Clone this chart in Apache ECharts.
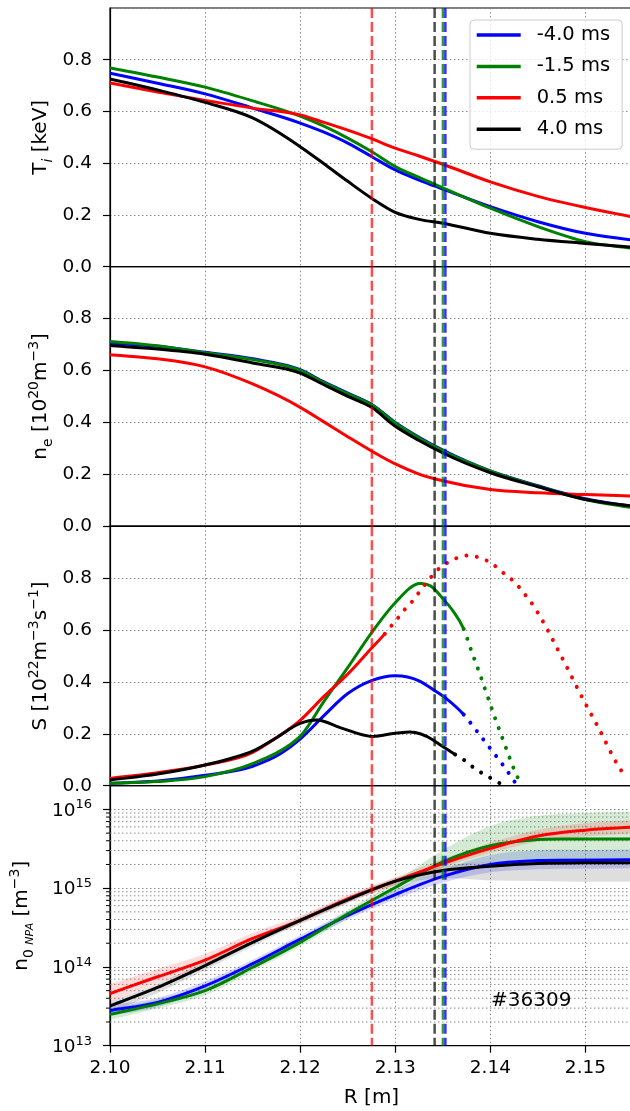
<!DOCTYPE html>
<html>
<head>
<meta charset="utf-8">
<script src="https://cdn.jsdelivr.net/npm/echarts@6/dist/echarts.min.js"></script>
<style>
  html, body { margin: 0; padding: 0; background: #ffffff; }
  #chart { width: 630px; height: 1111px; }
</style>
</head>
<body>
<div id="chart"></div>
<script>
const FONT = 'DejaVu Sans';

// Time slices relative to the event
const shots = ['-4.0 ms', '-1.5 ms', '0.5 ms', '4.0 ms'];
const shotColors = ['#0000ff', '#008000', '#ff0000', '#000000'];

// Major radius grid of the T_i and n_e profiles [m]
const rProfile = [2.100, 2.105, 2.110, 2.115, 2.120, 2.1225, 2.125, 2.1275, 2.130, 2.1325, 2.135, 2.140, 2.145, 2.150, 2.155];

// Ion temperature [keV]
const tiM40 = [0.748, 0.709, 0.668, 0.613, 0.555, 0.520, 0.478, 0.426, 0.374, 0.335, 0.300, 0.232, 0.174, 0.129, 0.103];
const tiM15 = [0.768, 0.733, 0.694, 0.641, 0.582, 0.543, 0.497, 0.445, 0.387, 0.345, 0.305, 0.226, 0.155, 0.097, 0.071];
const tiP05 = [0.710, 0.675, 0.643, 0.613, 0.587, 0.558, 0.528, 0.495, 0.458, 0.428, 0.396, 0.328, 0.272, 0.229, 0.192];
const tiP40 = [0.726, 0.683, 0.635, 0.575, 0.464, 0.398, 0.330, 0.265, 0.210, 0.183, 0.168, 0.129, 0.106, 0.090, 0.075];

// Electron density [1e20 m^-3]
const neM40 = [0.706, 0.693, 0.670, 0.645, 0.603, 0.556, 0.513, 0.470, 0.400, 0.343, 0.293, 0.213, 0.156, 0.106, 0.075];
const neM15 = [0.712, 0.695, 0.668, 0.642, 0.600, 0.553, 0.510, 0.468, 0.398, 0.340, 0.290, 0.212, 0.154, 0.103, 0.071];
const neP05 = [0.661, 0.645, 0.614, 0.548, 0.458, 0.402, 0.345, 0.290, 0.240, 0.201, 0.175, 0.141, 0.129, 0.122, 0.116];
const neP40 = [0.696, 0.683, 0.663, 0.629, 0.590, 0.545, 0.500, 0.458, 0.385, 0.330, 0.282, 0.206, 0.152, 0.103, 0.077];

// Ionisation source S [1e22 m^-3 s^-1]; solid up to sSolidEnd, dotted beyond
const sM40R = [2.100, 2.105, 2.110, 2.115, 2.118, 2.120, 2.1225, 2.125, 2.1275, 2.130, 2.1325, 2.134, 2.1355, 2.1372, 2.1380, 2.1388, 2.1396, 2.1404, 2.1412, 2.1420, 2.1428];
const sM40  = [0.009, 0.018, 0.040, 0.075, 0.125, 0.180, 0.270, 0.355, 0.405, 0.424, 0.404, 0.370, 0.332, 0.274, 0.238, 0.200, 0.162, 0.124, 0.086, 0.045, 0.002];
const sM15R = [2.100, 2.105, 2.110, 2.115, 2.119, 2.120, 2.1225, 2.125, 2.1275, 2.130, 2.1325, 2.1337, 2.1351, 2.1361, 2.1372, 2.1380, 2.1388, 2.1396, 2.1404, 2.1412, 2.1420, 2.1427, 2.1433];
const sM15  = [0.009, 0.016, 0.035, 0.085, 0.160, 0.190, 0.325, 0.455, 0.589, 0.705, 0.779, 0.770, 0.717, 0.672, 0.604, 0.520, 0.440, 0.355, 0.270, 0.190, 0.110, 0.045, 0.002];
const sP05R = [2.100, 2.105, 2.110, 2.115, 2.1175, 2.120, 2.1225, 2.125, 2.1275, 2.1289, 2.1295, 2.1302, 2.1310, 2.1318, 2.1325, 2.1332, 2.1340, 2.1347, 2.1358, 2.1368, 2.1379, 2.1391, 2.1402, 2.1410, 2.1419, 2.1428, 2.1435, 2.1442, 2.1449, 2.1473, 2.1498, 2.1515, 2.1535, 2.1542];
const sP05  = [0.028, 0.050, 0.080, 0.128, 0.185, 0.252, 0.344, 0.430, 0.530, 0.585, 0.612, 0.643, 0.679, 0.711, 0.745, 0.779, 0.814, 0.840, 0.865, 0.882, 0.887, 0.875, 0.856, 0.830, 0.805, 0.775, 0.743, 0.711, 0.672, 0.510, 0.330, 0.214, 0.073, 0.035];
const sP40R = [2.100, 2.105, 2.110, 2.1125, 2.115, 2.1175, 2.120, 2.1218, 2.1242, 2.1275, 2.130, 2.1321, 2.1333, 2.1347, 2.1363, 2.1372, 2.1383, 2.1391, 2.1402, 2.1412, 2.1416];
const sP40  = [0.022, 0.045, 0.080, 0.103, 0.133, 0.185, 0.240, 0.253, 0.224, 0.190, 0.202, 0.205, 0.190, 0.158, 0.120, 0.100, 0.068, 0.049, 0.026, 0.006, 0.001];
const sSolidEnd = [2.1372, 2.1372, 2.1289, 2.1363];

// NPA neutral density n0 [m^-3] with lower/upper uncertainty in decades
const rNpa = [2.100, 2.105, 2.110, 2.115, 2.120, 2.125, 2.130, 2.135, 2.140, 2.145, 2.150, 2.155];
const n0M40 = [2.8e13, 3.55e13, 5.75e13, 1.1e14, 2.25e14, 4.5e14, 8.3e14, 1.41e15, 2.0e15, 2.24e15, 2.27e15, 2.3e15];
const n0M15 = [2.5e13, 3.4e13, 5.0e13, 9.9e13, 2.05e14, 4.7e14, 1.02e15, 2.15e15, 3.45e15, 4.15e15, 4.2e15, 4.2e15];
const n0P05 = [4.6e13, 7.5e13, 1.22e14, 2.3e14, 3.9e14, 7.3e14, 1.23e15, 2.05e15, 3.2e15, 4.6e15, 5.45e15, 5.95e15];
const n0P40 = [3.2e13, 5.5e13, 1.04e14, 2.05e14, 3.9e14, 7.1e14, 1.23e15, 1.68e15, 1.9e15, 2.05e15, 2.1e15, 2.1e15];
const n0M40Lo = [0.07, 0.06, 0.06, 0.05, 0.05, 0.05, 0.06, 0.08, 0.10, 0.11, 0.11, 0.11];
const n0M40Hi = [0.07, 0.06, 0.06, 0.05, 0.05, 0.05, 0.06, 0.08, 0.12, 0.13, 0.13, 0.13];
const n0M15Lo = [0.07, 0.06, 0.06, 0.05, 0.05, 0.05, 0.06, 0.10, 0.20, 0.25, 0.27, 0.27];
const n0M15Hi = [0.07, 0.06, 0.06, 0.05, 0.05, 0.05, 0.08, 0.15, 0.25, 0.30, 0.33, 0.35];
const n0P05Lo = [0.10, 0.08, 0.07, 0.06, 0.05, 0.05, 0.05, 0.05, 0.06, 0.07, 0.08, 0.08];
const n0P05Hi = [0.12, 0.10, 0.08, 0.07, 0.06, 0.05, 0.05, 0.06, 0.07, 0.08, 0.09, 0.09];
const n0P40Lo = [0.08, 0.07, 0.06, 0.05, 0.04, 0.04, 0.05, 0.10, 0.18, 0.22, 0.24, 0.24];
const n0P40Hi = [0.06, 0.05, 0.05, 0.04, 0.04, 0.04, 0.04, 0.05, 0.06, 0.06, 0.06, 0.06];

// Separatrix positions of each time slice [m]
const sepR = [2.13527, 2.13501, 2.12754, 2.13414];

// Axis ranges and tick settings
const X_MIN = 2.10, X_MAX = 2.155, X_STEP = 0.01;
const LIN_MIN = 0, LIN_MAX = 1.0, LIN_STEP = 0.2;
const LOG_MIN = 1e13, LOG_MAX = 2e16;

const GRID_LINE = { color: '#8c8c8c', width: 1, type: [1.5, 2.5] };
const AXIS_LINE = { color: '#000000', width: 1.2 };
const TICK_FONT = 18.5;

const nameRich = {
  n:   { fontSize: 20, fontFamily: FONT, color: '#000', lineHeight: 28 },
  sub: { fontSize: 14, fontFamily: FONT, color: '#000', lineHeight: 14, verticalAlign: 'bottom' },
  si:  { fontSize: 14, fontFamily: FONT, color: '#000', lineHeight: 14, verticalAlign: 'bottom', fontStyle: 'italic' },
  sn:  { fontSize: 11, fontFamily: FONT, color: '#000', lineHeight: 12, verticalAlign: 'bottom', fontStyle: 'italic' },
  sup: { fontSize: 14, fontFamily: FONT, color: '#000', lineHeight: 14, verticalAlign: 'top' }
};

const yNames = [
  '{n|T}{si|i}{n| [keV]}',
  '{n|n}{sub|e}{n| [10}{sup|20}{n|m}{sup|\u22123}{n|]}',
  '{n|S [10}{sup|22}{n|m}{sup|\u22123}{n|s}{sup|\u22121}{n|]}',
  '{n|n}{sub|0 }{sn|NPA}{n| [m}{sup|\u22123}{n|]}'
];

const gridBoxes = [[8, 258.7], [266.7, 259.5], [526.2, 259.5], [785.7, 260]];
const grids = gridBoxes.map(([top, height]) => ({
  left: 110, top, width: 523, height,
  show: true, borderColor: '#000', borderWidth: 1.2, backgroundColor: 'transparent',
  containLabel: false, outerBoundsMode: 'none'
}));

const xAxes = grids.map((g, i) => ({
  type: 'value', gridIndex: i, min: X_MIN, max: X_MAX, interval: X_STEP,
  axisLine: { show: true, onZero: false, lineStyle: AXIS_LINE },
  axisTick: { show: i === 3, inside: false, length: 7, lineStyle: AXIS_LINE },
  axisLabel: {
    show: i === 3, showMaxLabel: false, showMinLabel: true,
    formatter: v => v.toFixed(2), fontSize: TICK_FONT, fontFamily: FONT, color: '#000', margin: 13
  },
  splitLine: { show: true, lineStyle: GRID_LINE },
  name: i === 3 ? 'R [m]' : '', nameLocation: 'middle', nameGap: 42, nameMoveOverlap: false,
  nameTextStyle: { fontSize: 20, fontFamily: FONT, color: '#000' }
}));

const yAxes = grids.map((g, i) => {
  const common = {
    gridIndex: i,
    axisLine: { show: true, onZero: false, lineStyle: AXIS_LINE },
    axisTick: { show: true, inside: false, length: 7, lineStyle: AXIS_LINE },
    splitLine: { show: true, lineStyle: GRID_LINE },
    name: yNames[i], nameLocation: 'middle', nameRotate: 90, nameMoveOverlap: false,
    nameGap: i === 3 ? 74 : 55,
    nameTextStyle: { rich: nameRich, fontFamily: FONT, color: '#000' }
  };
  if (i < 3) {
    return Object.assign(common, {
      type: 'value', min: LIN_MIN, max: LIN_MAX, interval: LIN_STEP,
      axisLabel: {
        showMaxLabel: false, formatter: v => v.toFixed(1),
        fontSize: TICK_FONT, fontFamily: FONT, color: '#000', margin: 18
      }
    });
  }
  return Object.assign(common, {
    type: 'log', logBase: 10, min: LOG_MIN, max: LOG_MAX,
    axisLabel: {
      showMaxLabel: false, margin: 18,
      formatter: v => '{b|10}{s|' + Math.round(Math.log10(v)) + '}',
      rich: {
        b: { fontSize: TICK_FONT, fontFamily: FONT, color: '#000', lineHeight: 22, verticalAlign: 'bottom' },
        s: { fontSize: 13, fontFamily: FONT, color: '#000', lineHeight: 14, padding: [0, 0, 14, 0], verticalAlign: 'top' }
      }
    }
  });
});

// Tangents of a cubic Hermite curve through pixel points (weighted neighbour slopes)
function hermiteTangents(pts) {
  const n = pts.length;
  return pts.map((p, i) => {
    if (i === 0) return (pts[1][1] - p[1]) / (pts[1][0] - p[0]);
    if (i === n - 1) return (p[1] - pts[i - 1][1]) / (p[0] - pts[i - 1][0]);
    const h0 = p[0] - pts[i - 1][0], h1 = pts[i + 1][0] - p[0];
    const d0 = (p[1] - pts[i - 1][1]) / h0, d1 = (pts[i + 1][1] - p[1]) / h1;
    return (d0 * h1 + d1 * h0) / (h0 + h1);
  });
}

// SVG path segments for indices [from, to]; reverse walks the points right to left
function splinePath(pts, from, to, reverse) {
  const m = hermiteTangents(pts);
  const seg = (i, j) => {
    const h = (pts[j][0] - pts[i][0]) / 3;
    return ' C' + (pts[i][0] + h) + ' ' + (pts[i][1] + m[i] * h) + ' ' +
           (pts[j][0] - h) + ' ' + (pts[j][1] - m[j] * h) + ' ' + pts[j][0] + ' ' + pts[j][1];
  };
  let d = '';
  if (!reverse) {
    d = 'M' + pts[from][0] + ' ' + pts[from][1];
    for (let i = from; i < to; i++) d += seg(i, i + 1);
  } else {
    d = ' L' + pts[to][0] + ' ' + pts[to][1];
    for (let i = to; i > from; i--) d += seg(i, i - 1);
  }
  return d;
}

const series = [];
function addCurve(gi, k, rs, vs, from, to, dotted) {
  series.push({
    type: 'custom', name: shots[k], xAxisIndex: gi, yAxisIndex: gi, silent: true, z: 3, clip: true,
    itemStyle: { color: shotColors[k] },
    data: [[rs[0], vs[0]]], encode: { x: 0, y: 1 },
    renderItem: (params, api) => {
      const pts = rs.map((r, i) => api.coord([r, vs[i]]));
      return {
        type: 'path',
        shape: { pathData: splinePath(pts, from, to, false) },
        style: dotted
          ? { fill: 'none', stroke: shotColors[k], lineWidth: 4, lineDash: [0.01, 10.5], lineCap: 'round' }
          : { fill: 'none', stroke: shotColors[k], lineWidth: 3, lineJoin: 'round' }
      };
    }
  });
}

// Panel 1: T_i, panel 2: n_e
[tiM40, tiM15, tiP05, tiP40].forEach((vals, k) => addCurve(0, k, rProfile, vals, 0, rProfile.length - 1, false));
[neM40, neM15, neP05, neP40].forEach((vals, k) => addCurve(1, k, rProfile, vals, 0, rProfile.length - 1, false));

// Panel 3: source rate, solid inside the fit range and dotted outside
[[sM40R, sM40], [sM15R, sM15], [sP05R, sP05], [sP40R, sP40]].forEach(([rs, vs], k) => {
  const cutIdx = rs.findIndex(r => Math.abs(r - sSolidEnd[k]) < 1e-9);
  addCurve(2, k, rs, vs, 0, cutIdx, false);
  addCurve(2, k, rs, vs, cutIdx, rs.length - 1, true);
});

// Panel 4: minor decade grid lines and ticks on the log axis
const minorVals = [];
for (let e = 13; e <= 16; e++) {
  for (let m = 2; m <= 9; m++) {
    const v = m * Math.pow(10, e);
    if (v < LOG_MAX) minorVals.push([X_MIN, v]);
  }
}
series.push({
  type: 'custom', xAxisIndex: 3, yAxisIndex: 3, silent: true, z: 1, clip: false,
  data: minorVals, encode: { x: 0, y: 1 },
  renderItem: (params, api) => {
    const p = api.coord([api.value(0), api.value(1)]);
    const cs = params.coordSys;
    return {
      type: 'group',
      children: [
        { type: 'line', shape: { x1: cs.x, y1: p[1], x2: cs.x + cs.width, y2: p[1] },
          style: { stroke: GRID_LINE.color, lineWidth: 1, lineDash: GRID_LINE.type } },
        { type: 'line', shape: { x1: cs.x - 4, y1: p[1], x2: cs.x, y2: p[1] },
          style: { stroke: '#000', lineWidth: 1 } }
      ]
    };
  }
});

// Panel 4: uncertainty bands
const bandFills = ['rgba(0,0,255,0.16)', 'rgba(0,128,0,0.16)', 'rgba(255,0,0,0.14)', 'rgba(0,0,0,0.13)'];
[[n0M40, n0M40Lo, n0M40Hi], [n0M15, n0M15Lo, n0M15Hi], [n0P05, n0P05Lo, n0P05Hi], [n0P40, n0P40Lo, n0P40Hi]]
  .forEach(([vals, lo, hi], k) => {
    series.push({
      type: 'custom', xAxisIndex: 3, yAxisIndex: 3, silent: true, z: 2, clip: true,
      data: [[rNpa[0], vals[0]]], encode: { x: 0, y: 1 },
      renderItem: (params, api) => {
        const n = rNpa.length - 1;
        const upper = rNpa.map((r, i) => api.coord([r, vals[i] * Math.pow(10, hi[i])]));
        const lower = rNpa.map((r, i) => api.coord([r, vals[i] / Math.pow(10, lo[i])]));
        return {
          type: 'path',
          shape: { pathData: splinePath(upper, 0, n, false) + splinePath(lower, 0, n, true) + ' Z' },
          style: { fill: bandFills[k] }
        };
      }
    });
  });

// Panel 4: neutral density profiles
[n0M40, n0M15, n0P05, n0P40].forEach((vals, k) => addCurve(3, k, rNpa, vals, 0, rNpa.length - 1, false));

// Separatrix markers through all panels
const sepColors = ['rgba(0,0,255,0.8)', 'rgba(0,128,0,0.8)', 'rgba(255,0,0,0.7)', 'rgba(0,0,0,0.7)'];
const sepOrder = [2, 3, 1, 0];
for (let gi = 0; gi < 4; gi++) {
  series.push({
    type: 'custom', xAxisIndex: gi, yAxisIndex: gi, silent: true, z: 6, clip: false,
    data: sepOrder.map(k => [sepR[k], gi === 3 ? LOG_MIN : LIN_MIN, k]),
    encode: { x: 0, y: 1 },
    renderItem: (params, api) => {
      const k = api.value(2);
      const x = api.coord([api.value(0), api.value(1)])[0];
      const cs = params.coordSys;
      return {
        type: 'line',
        shape: { x1: x, y1: cs.y, x2: x, y2: cs.y + cs.height },
        style: { stroke: sepColors[k], lineWidth: 2.5, lineDash: [10, 4] }
      };
    }
  });
}

const chart = echarts.init(document.getElementById('chart'), null, { renderer: 'canvas' });
chart.setOption({
  animation: false,
  backgroundColor: '#ffffff',
  textStyle: { fontFamily: FONT },
  grid: grids,
  xAxis: xAxes,
  yAxis: yAxes,
  legend: {
    data: shots, orient: 'vertical', left: 470, top: 20, selectedMode: false,
    icon: 'path://M0,0h0.01v0.01h-0.01zM0,8.25h44v3.5h-44zM43.99,19.99h0.01v0.01h-0.01z',
    itemWidth: 44, itemHeight: 20, itemGap: 11.4,
    padding: [5, 12, 10, 6.7],
    backgroundColor: 'rgba(255,255,255,0.8)', borderColor: '#cccccc', borderWidth: 1, borderRadius: 4,
    textStyle: { fontSize: 19.5, fontFamily: FONT, color: '#000', padding: [0, 0, 0, 11] }
  },
  graphic: [{
    type: 'text', left: 491, top: 991, silent: true,
    style: { text: '#36309', fontSize: 20, fontFamily: FONT, fill: '#000' }
  }],
  series
});
</script>
</body>
</html>
